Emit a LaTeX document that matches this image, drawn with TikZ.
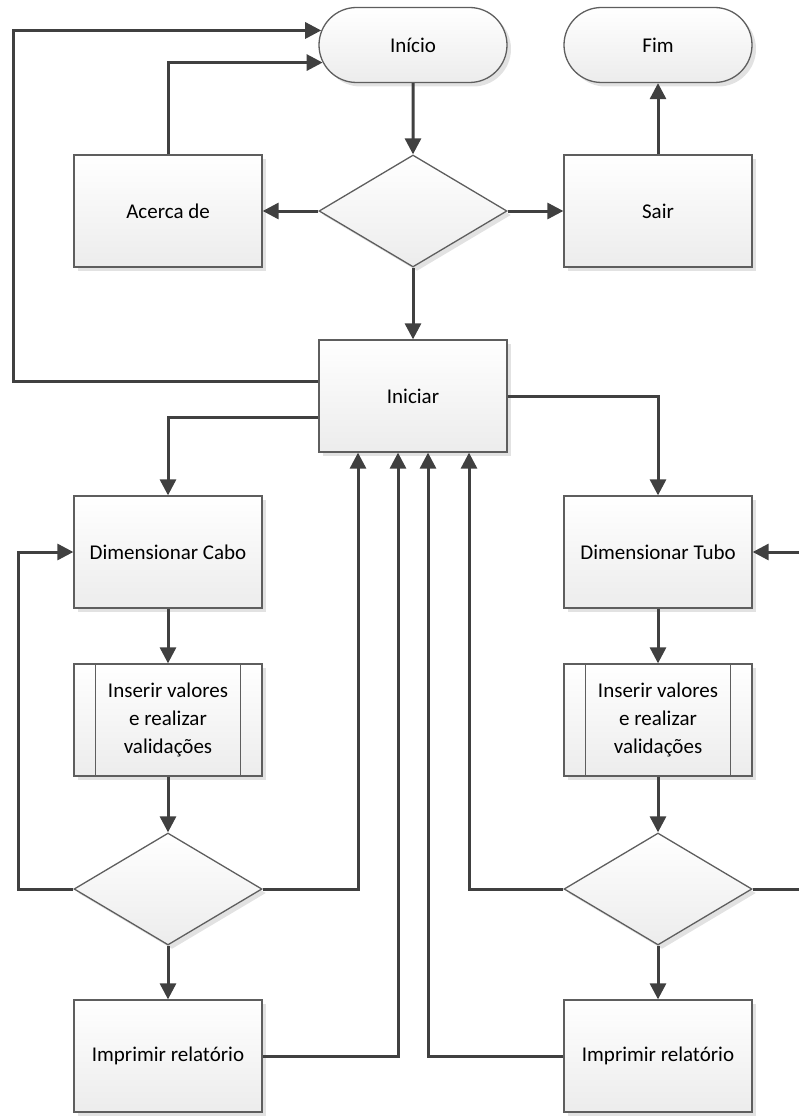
\documentclass[tikz,border=0pt]{standalone}
\usepackage{fontspec}
\setmainfont{Carlito}
\usetikzlibrary{arrows.meta,shapes.geometric,shapes.misc,shadows}
\definecolor{lineC}{HTML}{404040}
\definecolor{borderC}{HTML}{5E5E5E}
\definecolor{botC}{HTML}{ECECEC}
\definecolor{shadowC}{HTML}{E2E2E2}
\begin{document}
\begin{tikzpicture}[x=1pt,y=-1pt,
  base/.style={draw=borderC, line width=1.3pt, top color=white, bottom color=botC,
    drop shadow={shadow xshift=4pt, shadow yshift=-4pt, fill=shadowC, opacity=1},
    font=\fontsize{21}{28}\selectfont, text=black, align=center, inner sep=0pt},
  procbox/.style={base, rectangle, minimum width=188pt, minimum height=112pt},
  termbox/.style={base, rounded rectangle, minimum width=188pt, minimum height=75pt},
  decbox/.style={base, diamond, minimum width=188pt, minimum height=112pt},
  arr/.style={draw=lineC, line width=3pt, -{Triangle[length=16pt,width=16pt]}},
  conn/.style={draw=lineC, line width=3pt}
]
\useasboundingbox (0,0) rectangle (799,1118);

\node[termbox] (inicio) at (413,45) {Início};
\node[termbox] (fim) at (658,45) {Fim};
\node[decbox] (dec1) at (413,211) {};
\node[procbox] (acerca) at (168,211) {Acerca de};
\node[procbox] (sair) at (658,211) {Sair};
\node[procbox] (iniciar) at (413,396) {Iniciar};

\node[procbox] (cabo) at (168,552) {Dimensionar Cabo};
\node[procbox] (ins1) at (168,720) {Inserir valores\\e realizar\\validações};
\node[decbox] (dec2) at (168,889) {};
\node[procbox] (imp1) at (168,1056) {Imprimir relatório};

\node[procbox] (tubo) at (658,552) {Dimensionar Tubo};
\node[procbox] (ins2) at (658,720) {Inserir valores\\e realizar\\validações};
\node[decbox] (dec3) at (658,889) {};
\node[procbox] (imp2) at (658,1056) {Imprimir relatório};

\foreach \n in {ins1,ins2}{
  \draw[borderC, line width=1.3pt] ([xshift=22pt]\n.north west) -- ([xshift=22pt]\n.south west);
  \draw[borderC, line width=1.3pt] ([xshift=-22pt]\n.north east) -- ([xshift=-22pt]\n.south east);
}

\coordinate (lx1) at (13,381);
\coordinate (lx2) at (18,889);
\coordinate (re1) at (800,889);
\coordinate (re2) at (800,552);

\draw[arr] (inicio) -- (dec1);
\draw[arr] (dec1.west) -- (acerca.east);
\draw[arr] (dec1.east) -- (sair.west);
\draw[arr] (sair) -- (fim);
\draw[arr] (acerca.north) |- (inicio.191.5);
\draw[arr] ([yshift=15pt]iniciar.west) -- (lx1) |- (inicio.171);
\draw[arr] (dec1) -- (iniciar);
\draw[arr] ([yshift=-21pt]iniciar.west) -| (cabo.north);
\draw[arr] (iniciar.east) -| (tubo.north);

\draw[arr] (cabo) -- (ins1);
\draw[arr] (ins1) -- (dec2);
\draw[arr] (dec2) -- (imp1);
\draw[arr] (tubo) -- (ins2);
\draw[arr] (ins2) -- (dec3);
\draw[arr] (dec3) -- (imp2);

\draw[arr] (dec2.west) -- (lx2) |- (cabo.west);
\draw[arr] (dec2.east) -| ([xshift=-55pt]iniciar.south);
\draw[arr] (imp1.east) -| ([xshift=-15pt]iniciar.south);
\draw[arr] (imp2.west) -| ([xshift=15pt]iniciar.south);
\draw[arr] (dec3.west) -| ([xshift=56pt]iniciar.south);
\draw[conn] (dec3.east) -- (re1);
\draw[arr] (re2) -- (tubo.east);
\end{tikzpicture}
\end{document}
